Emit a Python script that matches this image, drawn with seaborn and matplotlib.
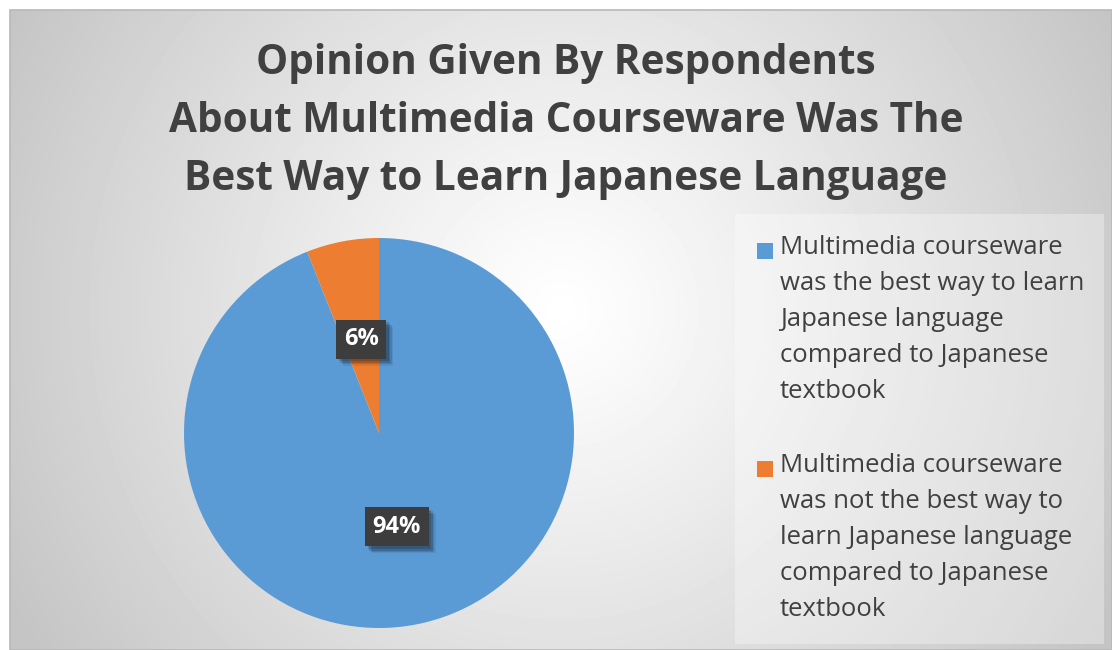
import numpy as np
import matplotlib
matplotlib.use("Agg")
import matplotlib.pyplot as plt
import matplotlib.patheffects as pe
from matplotlib.patches import Rectangle
import seaborn as sns

# Survey responses
categories = [
    "Multimedia courseware\nwas the best way to learn\nJapanese language\ncompared to Japanese\ntextbook",
    "Multimedia courseware\nwas not the best way to\nlearn Japanese language\ncompared to Japanese\ntextbook",
]
shares = [94, 6]
slice_colors = ["#5B9BD5", "#ED7D31"]
title_lines = [
    "Opinion Given By Respondents",
    "About Multimedia Courseware Was The",
    "Best Way to Learn Japanese Language",
]

sns.set_theme(style="white")
plt.rcParams["font.family"] = ["Open Sans", "DejaVu Sans"]

W, H = 1112, 650
fig = plt.figure(figsize=(W / 100, H / 100), dpi=100)
fig.patch.set_facecolor("white")

# Radial grey background of the chart area
bg = fig.add_axes([10 / W, 0, (W - 10) / W, (H - 10) / H], zorder=0)
yy, xx = np.mgrid[0:640, 0:1102]
cx, cy = 551, 300
d = np.sqrt((xx - cx) ** 2 + (yy - cy) ** 2) / np.sqrt(cx ** 2 + cy ** 2)
shade = 1.0 - 0.23 * np.clip(d, 0, 1) ** 1.1
bg.imshow(shade, cmap="gray", vmin=0, vmax=1, aspect="auto",
          extent=[0, 1, 0, 1], interpolation="bilinear")
bg.set_xlim(0, 1)
bg.set_ylim(0, 1)
bg.set_axis_off()
fig.add_artist(Rectangle((10 / W, 0), (W - 10) / W, (H - 10) / H,
                         transform=fig.transFigure, fill=False,
                         edgecolor="#b8b8b8", linewidth=1.2, zorder=1))

# Title
for i, line in enumerate(title_lines):
    fig.text(566 / W, 1 - (64 + 58 * i) / H, line, ha="center", va="center",
             fontsize=29.2, fontweight="bold", color="#404040", zorder=3)

# Pie
R = 195
pcx, pcy = 379, 433
ax = fig.add_axes([(pcx - R) / W, (H - pcy - R) / H, 2 * R / W, 2 * R / H], zorder=2)
wedges, _, autotexts = ax.pie(
    shares, colors=slice_colors, startangle=90, counterclock=False,
    radius=1, autopct="%d%%", pctdistance=0.49,
    wedgeprops=dict(linewidth=0),
    textprops=dict(color="white", fontsize=17, fontweight="bold"),
)
ax.set_xlim(-1, 1)
ax.set_ylim(-1, 1)
ax.set_axis_off()

# Dark value labels with a soft drop shadow
for t in autotexts:
    t.set_bbox(dict(boxstyle="square,pad=0.32", facecolor="#3d3d3d",
                    edgecolor="none", linewidth=0))
    t.get_bbox_patch().set_path_effects([
        pe.SimplePatchShadow(offset=(5, -5), shadow_rgbFace="black", alpha=0.08),
        pe.SimplePatchShadow(offset=(4, -4), shadow_rgbFace="black", alpha=0.12),
        pe.SimplePatchShadow(offset=(3, -3), shadow_rgbFace="black", alpha=0.15),
        pe.SimplePatchShadow(offset=(2, -2), shadow_rgbFace="black", alpha=0.15),
        pe.Normal(),
    ])

# Legend panel
lx0, ly0, lx1, ly1 = 735, 214, 1104, 644
fig.add_artist(Rectangle((lx0 / W, 1 - ly1 / H), (lx1 - lx0) / W, (ly1 - ly0) / H,
                         transform=fig.transFigure, facecolor="white",
                         alpha=0.32, edgecolor="none", zorder=2))
entry_tops = [235, 453]
for top, label, color in zip(entry_tops, categories, slice_colors):
    fig.add_artist(Rectangle((757 / W, 1 - (top + 24) / H), 16 / W, 16 / H,
                             transform=fig.transFigure, facecolor=color,
                             edgecolor="none", zorder=3))
    fig.text(780 / W, 1 - top / H, label, ha="left", va="top",
             fontsize=18.5, color="#404040", linespacing=1.58, zorder=3)

fig.savefig("out.png", dpi=100, facecolor=fig.get_facecolor())
